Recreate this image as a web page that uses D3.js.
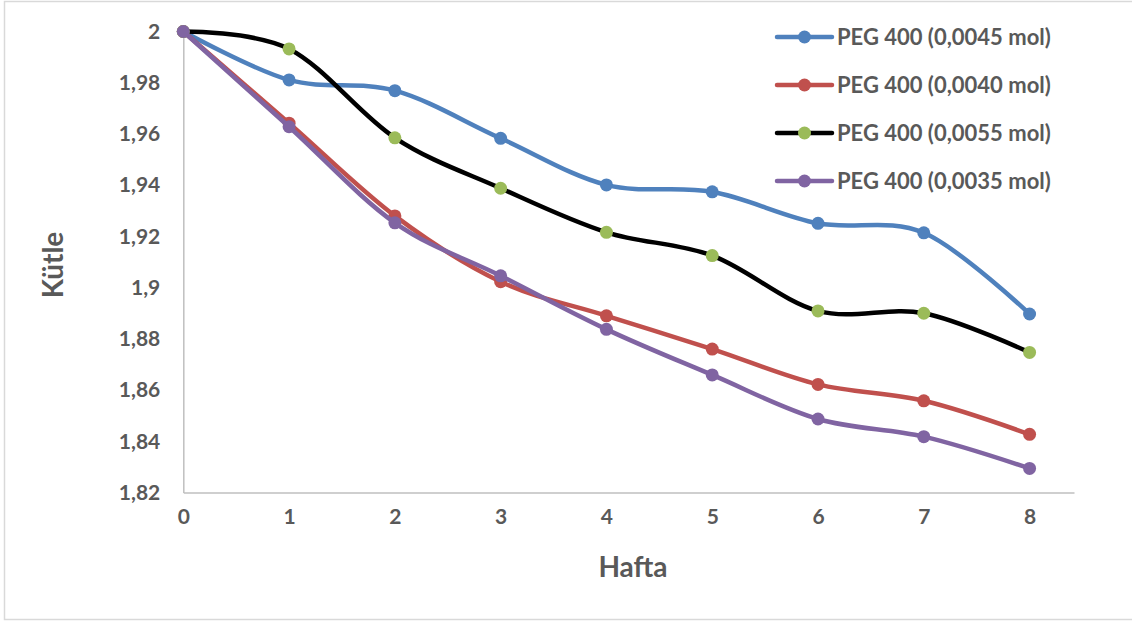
<!DOCTYPE html>
<html>
<head>
<meta charset="utf-8">
<script src="https://cdn.jsdelivr.net/npm/d3@7"></script>
<style>
  html, body { margin: 0; padding: 0; background: #fff; }
  svg { display: block; }
  text { font-family: Lato, "Open Sans", sans-serif; font-weight: 700; fill: #595959; }
</style>
</head>
<body>
<svg id="chart" width="1132" height="621"></svg>
<script>
// Weeks on the x axis
const weeks = [0, 1, 2, 3, 4, 5, 6, 7, 8];

// Mass per week for each PEG 400 amount
const peg0045 = [2, 1.9811, 1.9769, 1.9583, 1.9401, 1.9374, 1.9251, 1.9214, 1.8897];
const peg0040 = [2, 1.9642, 1.9280, 1.9023, 1.8890, 1.8760, 1.8622, 1.8558, 1.8427];
const peg0055 = [2, 1.9932, 1.9585, 1.9388, 1.9216, 1.9125, 1.8909, 1.8900, 1.8747];
const peg0035 = [2, 1.9628, 1.9253, 1.9046, 1.8837, 1.8659, 1.8487, 1.8418, 1.8294];

const seriesNames = ["PEG 400 (0,0045 mol)", "PEG 400 (0,0040 mol)", "PEG 400 (0,0055 mol)", "PEG 400 (0,0035 mol)"];

// Axis tick values
const yTicks = [1.82, 1.84, 1.86, 1.88, 1.9, 1.92, 1.94, 1.96, 1.98, 2];
const xTicks = [0, 1, 2, 3, 4, 5, 6, 7, 8];

const xTitle = "Hafta";
const yTitle = "Kütle";

const series = [
  { name: seriesNames[0], values: peg0045, line: "#4F81BD", marker: "#4F81BD" },
  { name: seriesNames[1], values: peg0040, line: "#C0504D", marker: "#C0504D" },
  { name: seriesNames[2], values: peg0055, line: "#000000", marker: "#9BBB59" },
  { name: seriesNames[3], values: peg0035, line: "#8064A2", marker: "#8064A2" }
];

const svg = d3.select("#chart");
const W = 1132, H = 621;

// outer chart border
svg.append("rect")
  .attr("x", 4.5).attr("y", 1.5)
  .attr("width", W + 10).attr("height", H - 3)
  .attr("fill", "#fff").attr("stroke", "#D9D9D9").attr("stroke-width", 1.5);

const plot = { left: 183.3, right: 1074, top: 31.5, bottom: 492.5 };

const x = d3.scaleLinear().domain([0, 8.42]).range([plot.left, plot.right]);
const y = d3.scaleLinear().domain([1.82, 2]).range([plot.bottom, plot.top]);

const fmt = v => d3.format("~g")(v).replace(".", ",");
const tickFont = 21;

// y axis
const yAxis = svg.append("g")
  .attr("transform", `translate(${plot.left},0)`)
  .call(d3.axisLeft(y).tickValues(yTicks).tickFormat(fmt).tickSize(0).tickPadding(23));
yAxis.select(".domain").attr("stroke", "#BFBFBF").attr("stroke-width", 1.5);
yAxis.selectAll("text").attr("font-size", tickFont).attr("fill", "#595959")
  .style("font-family", "Lato, sans-serif").style("font-weight", 700);

// x axis
const xAxis = svg.append("g")
  .attr("transform", `translate(0,${plot.bottom})`)
  .call(d3.axisBottom(x).tickValues(xTicks).tickFormat(d3.format("d")).tickSize(0).tickPadding(17));
xAxis.select(".domain").attr("stroke", "#BFBFBF").attr("stroke-width", 1.5);
xAxis.selectAll("text").attr("font-size", tickFont).attr("fill", "#595959")
  .style("font-family", "Lato, sans-serif").style("font-weight", 700);

// axis titles
svg.append("text")
  .attr("x", 633).attr("y", 577)
  .attr("text-anchor", "middle")
  .attr("font-size", 28)
  .text(xTitle);

svg.append("text")
  .attr("transform", "translate(63,265) rotate(-90)")
  .attr("text-anchor", "middle")
  .attr("font-size", 28)
  .text(yTitle);

// smoothed series lines with markers
const line = d3.line()
  .x((d, i) => x(weeks[i]))
  .y(d => y(d))
  .curve(d3.curveCardinal.tension(0));

series.forEach(s => {
  const g = svg.append("g");
  g.append("path")
    .attr("d", line(s.values))
    .attr("fill", "none")
    .attr("stroke", s.line)
    .attr("stroke-width", 4.5)
    .attr("stroke-linecap", "round")
    .attr("stroke-linejoin", "round");
  g.selectAll("circle")
    .data(s.values)
    .join("circle")
    .attr("cx", (d, i) => x(weeks[i]))
    .attr("cy", d => y(d))
    .attr("r", 6.5)
    .attr("fill", s.marker);
});

// legend
const legend = svg.append("g").attr("transform", "translate(777,37)");
series.forEach((s, i) => {
  const row = legend.append("g").attr("transform", `translate(0,${i * 48})`);
  row.append("line")
    .attr("x1", 0).attr("x2", 55)
    .attr("y1", 0).attr("y2", 0)
    .attr("stroke", s.line).attr("stroke-width", 4.5).attr("stroke-linecap", "round");
  row.append("circle")
    .attr("cx", 27.5).attr("cy", 0).attr("r", 6.5).attr("fill", s.marker);
  row.append("text")
    .attr("x", 60).attr("y", 0)
    .attr("dy", "0.35em")
    .attr("font-size", 22)
    .text(s.name);
});
</script>
</body>
</html>
